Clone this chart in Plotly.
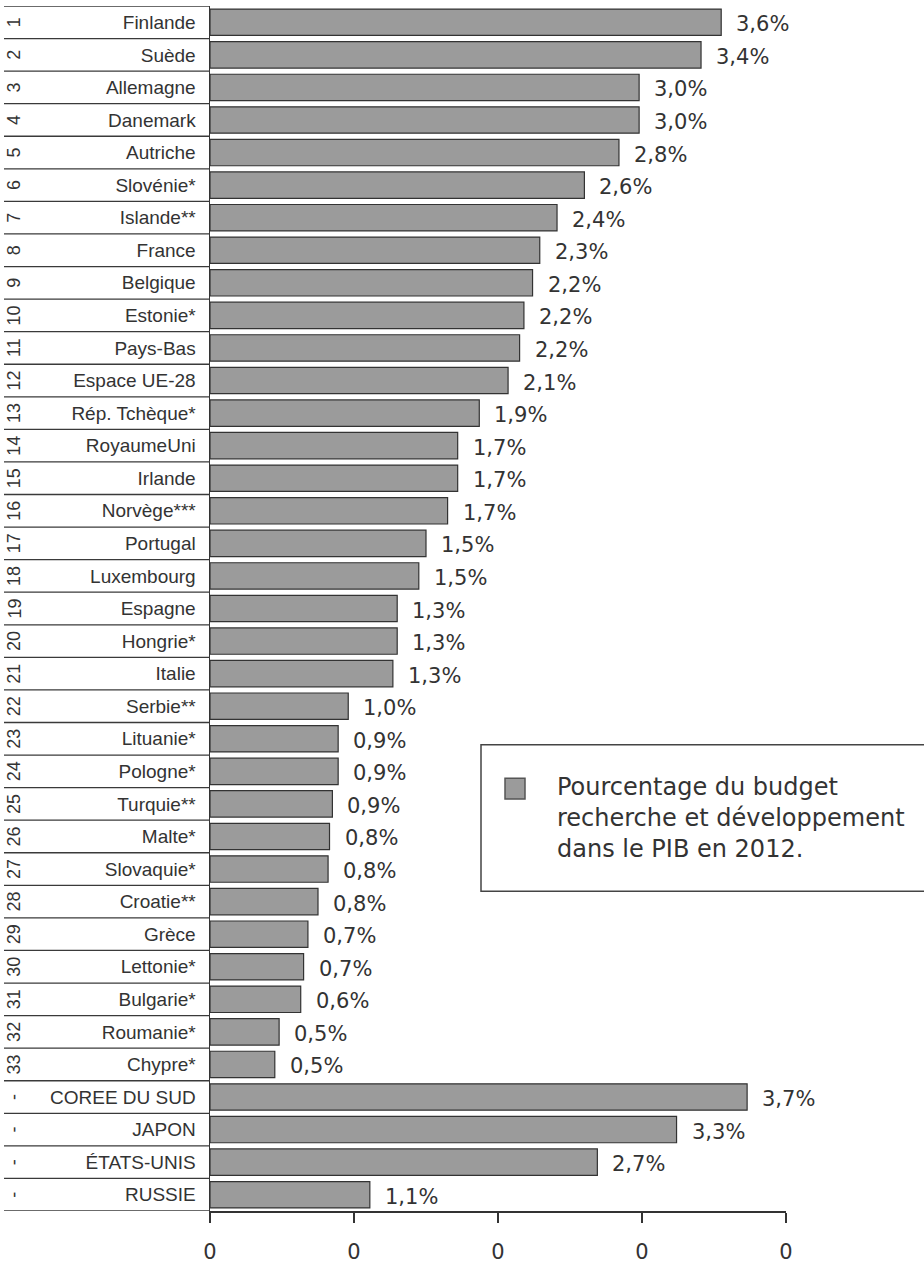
import plotly.graph_objects as go

# ---------------- data ----------------
ranks = [str(i) for i in range(1, 34)] + ["-", "-", "-", "-"]
countries = ["Finlande", "Suède", "Allemagne", "Danemark", "Autriche", "Slovénie*",
             "Islande**", "France", "Belgique", "Estonie*", "Pays-Bas", "Espace UE-28",
             "Rép. Tchèque*", "RoyaumeUni", "Irlande", "Norvège***", "Portugal",
             "Luxembourg", "Espagne", "Hongrie*", "Italie", "Serbie**", "Lituanie*",
             "Pologne*", "Turquie**", "Malte*", "Slovaquie*", "Croatie**", "Grèce",
             "Lettonie*", "Bulgarie*", "Roumanie*", "Chypre*",
             "COREE DU SUD", "JAPON", "ÉTATS-UNIS", "RUSSIE"]
# share of GDP (fraction)
values = [0.0355, 0.0341, 0.0298, 0.0298, 0.0284, 0.0260, 0.0241, 0.0229, 0.0224,
          0.0218, 0.0215, 0.0207, 0.0187, 0.0172, 0.0172, 0.0165, 0.0150, 0.0145,
          0.0130, 0.0130, 0.0127, 0.0096, 0.0089, 0.0089, 0.0085, 0.0083, 0.0082,
          0.0075, 0.0068, 0.0065, 0.0063, 0.0048, 0.0045,
          0.0373, 0.0324, 0.0269, 0.0111]
value_labels = ["3,6%", "3,4%", "3,0%", "3,0%", "2,8%", "2,6%", "2,4%", "2,3%", "2,2%",
                "2,2%", "2,2%", "2,1%", "1,9%", "1,7%", "1,7%", "1,7%", "1,5%", "1,5%",
                "1,3%", "1,3%", "1,3%", "1,0%", "0,9%", "0,9%", "0,9%", "0,8%", "0,8%",
                "0,8%", "0,7%", "0,7%", "0,6%", "0,5%", "0,5%",
                "3,7%", "3,3%", "2,7%", "1,1%"]
x_ticks = [0, 0.01, 0.02, 0.03, 0.04]
legend_text = "Pourcentage du budget<br>recherche et développement<br>dans le PIB en 2012."

# ---------------- layout geometry ----------------
W, H = 924, 1270
PL, PR, PT, PB = 210, 786, 6, 1223  # plot area in pixels


def px(xp):
    return (xp - PL) / (PR - PL)


def py(yp):
    return (PB - yp) / (PB - PT)


TXT = "#333333"
BAR = "#9b9b9b"

fig = go.Figure()
fig.add_trace(go.Bar(
    x=values, y=countries, orientation="h",
    marker=dict(color=BAR, line=dict(color="#333333", width=1.2)),
    hoverinfo="skip", showlegend=False,
))

annotations = []
for c, v, t in zip(countries, values, value_labels):
    annotations.append(dict(
        x=v, y=c, xref="x", yref="y", text=t, showarrow=False,
        xanchor="left", yanchor="middle", xshift=13, yshift=-2,
        font=dict(family="DejaVu Sans", size=21, color=TXT)))
for c, r in zip(countries, ranks):
    annotations.append(dict(
        x=px(14), y=c, xref="paper", yref="y", text=r,
        showarrow=False, textangle=-90, xanchor="center", yanchor="middle",
        font=dict(family="Liberation Sans", size=18, color=TXT)))

annotations.append(dict(
    x=px(555), y=py(826), xref="paper", yref="paper", text=legend_text,
    showarrow=False, xanchor="left", yanchor="middle", align="left",
    font=dict(family="DejaVu Sans", size=24, color=TXT)))

shapes = []
n = len(countries)
for i in range(n + 1):
    shapes.append(dict(
        type="line", xref="paper", yref="y", x0=px(4), x1=0,
        y0=i - 0.5, y1=i - 0.5, line=dict(color="#3a3a3a", width=1.3)))

# legend box and swatch
shapes.append(dict(type="rect", xref="paper", yref="paper",
                   x0=px(481), x1=px(980), y0=py(900), y1=py(752),
                   line=dict(color="#444444", width=1.5), fillcolor="rgba(0,0,0,0)"))
shapes.append(dict(type="rect", xref="paper", yref="paper",
                   x0=px(505), x1=px(525), y0=py(807), y1=py(786),
                   line=dict(color="#555555", width=1.5), fillcolor=BAR))

fig.update_layout(
    width=W, height=H,
    margin=dict(l=PL, r=W - PR, t=PT, b=H - PB, pad=0),
    paper_bgcolor="white", plot_bgcolor="white",
    bargap=0.19,
    annotations=annotations, shapes=shapes,
    xaxis=dict(range=[0, 0.04], tickvals=x_ticks, tickformat=".0f",
               ticks="outside", ticklen=10, tickwidth=1.3, tickcolor="#333333",
               showline=True, linecolor="#333333", linewidth=1.5,
               showgrid=False, zeroline=False, ticklabelstandoff=11,
               tickfont=dict(family="DejaVu Sans", size=21, color=TXT)),
    yaxis=dict(type="category", categoryorder="array", categoryarray=countries,
               range=[n - 0.5, -0.5], showline=True, linecolor="#333333",
               linewidth=1.5, ticks="", showgrid=False, zeroline=False,
               ticklabelstandoff=9,
               tickfont=dict(family="Liberation Sans", size=19, color=TXT)),
    font=dict(family="Liberation Sans", color=TXT),
)

fig.write_html("out.html",
               config={"displayModeBar": False, "staticPlot": True},
               post_script="document.body.style.margin='0px';document.body.style.overflow='hidden';")
